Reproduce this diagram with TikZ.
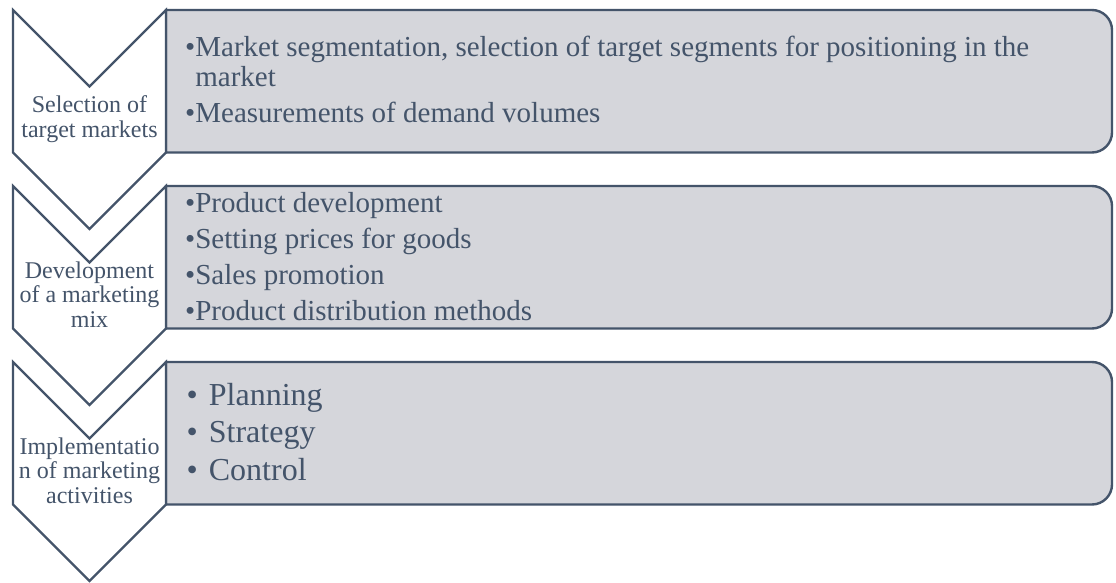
\documentclass[tikz,border=0pt]{standalone}
\usepackage{fontspec}
\setmainfont{Liberation Serif}
\definecolor{slate}{HTML}{44546A}
\definecolor{boxgray}{HTML}{D5D6DB}
\begin{document}
\begin{tikzpicture}[x=1pt,y=-1pt,
  chevronline/.style={draw=slate, fill=white, line width=2.2pt, line join=miter},
  panel/.style={draw=slate, fill=boxgray, line width=2.4pt},
  steplabel/.style={text=slate, inner sep=0pt, anchor=base,
    font=\fontsize{24}{24.5}\selectfont},
  itemtext/.style={text=slate, inner sep=0pt, anchor=base west,
    font=\fontsize{29}{30}\selectfont},
  itemtextlarge/.style={text=slate, inner sep=0pt, anchor=base west,
    font=\fontsize{32}{31.5}\selectfont}]
\useasboundingbox (0,0) rectangle (1116,583);
\fill[white] (0,0) rectangle (1116,583);

% panels: square on the left, rounded on the right
\foreach \t/\s in {10/152.5, 186/328.5, 362/504.5}{
  \draw[panel] (166,\t) -- (1092,\t)
    .. controls (1103,\t) and (1112,\t+9) .. (1112,\t+20)
    -- (1112,\s-20)
    .. controls (1112,\s-9) and (1103,\s) .. (1092,\s)
    -- (166,\s) -- cycle;
}

% down-pointing chevrons
\foreach \t/\s in {10/152.5, 186/328.5, 362/504.5}{
  \draw[chevronline] (13,\t) -- (89.5,\t+76.5) -- (166,\t)
    -- (166,\s) -- (89.5,\s+76.5) -- (13,\s) -- cycle;
}

% step labels
\node[steplabel] (lab1) at (89.5,113) {\begin{tabular}[t]{@{}c@{}}Selection of\\target markets\end{tabular}};
\node[steplabel] (lab2) at (89.5,278) {\begin{tabular}[t]{@{}c@{}}Development\\of a marketing\\mix\end{tabular}};
\node[steplabel] (lab3) at (89.5,454) {\begin{tabular}[t]{@{}c@{}}Implementatio\\n of marketing\\activities\end{tabular}};

% panel contents
\node[itemtext] (items1) at (185,57) {\begin{tabular}[t]{@{}l@{}l@{}}
\textbullet & Market segmentation, selection of target segments for positioning in the\\
 & market\\[6pt]
\textbullet & Measurements of demand volumes
\end{tabular}};
\node[itemtext] (items2) at (185,212) {\begin{tabular}[t]{@{}l@{}l@{}}
\textbullet & Product development\\[6pt]
\textbullet & Setting prices for goods\\[6pt]
\textbullet & Sales promotion\\[6pt]
\textbullet & Product distribution methods
\end{tabular}};
\node[itemtextlarge] (items3) at (186.5,405) {\begin{tabular}[t]{@{}l@{\hspace{11pt}}l@{}}
\textbullet & Planning\\[6pt]
\textbullet & Strategy\\[6pt]
\textbullet & Control
\end{tabular}};
\end{tikzpicture}
\end{document}
